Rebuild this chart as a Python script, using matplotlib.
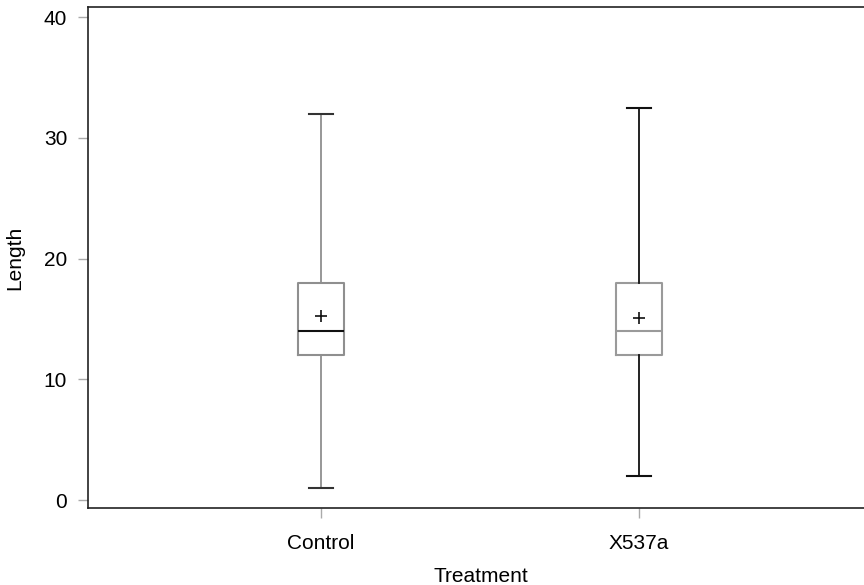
import numpy as np
import matplotlib
matplotlib.use('Agg')
import matplotlib.pyplot as plt

plt.rcParams['font.family'] = ['Liberation Sans', 'DejaVu Sans']

# values
treatments = ['Control', 'X537a']
whisker_low = [1.0, 2.0]
q1 = [12.0, 12.0]
median = [14.0, 14.0]
q3 = [18.0, 18.0]
whisker_high = [32.0, 32.5]
means = [15.2, 15.1]

box_col = ['#8f8f8f', '#9a9a9a']
med_col = ['#111111', '#9a9a9a']
whisk_col = ['#8f8f8f', '#111111']
cap_col = ['#333333', '#111111']

fig = plt.figure(figsize=(8.64, 5.85), dpi=100)
ax = fig.add_axes([88/864, 77/585, 785/864, 501/585])

for i, name in enumerate(treatments):
    stats = [dict(label=name, whislo=whisker_low[i], q1=q1[i], med=median[i],
                  q3=q3[i], whishi=whisker_high[i], mean=means[i], fliers=[])]
    ax.bxp(stats, positions=[i + 1], widths=0.145, showmeans=True,
           showfliers=False, capwidths=0.078,
           boxprops=dict(color=box_col[i], linewidth=1.5),
           medianprops=dict(color=med_col[i], linewidth=1.5),
           whiskerprops=dict(color=whisk_col[i], linewidth=1.3),
           capprops=dict(color=cap_col[i], linewidth=1.5),
           meanprops=dict(marker='+', markersize=8, markeredgecolor='#111111',
                          markeredgewidth=1.2))

ax.set_xlim(0.267, 2.736)
ax.set_ylim(-0.66, 40.83)
ax.set_xticks([1, 2])
ax.set_xticklabels(treatments)
ax.set_yticks([0, 10, 20, 30, 40])

for s in ['left', 'bottom', 'top', 'right']:
    ax.spines[s].set_linewidth(1.2)
    ax.spines[s].set_color('#222222')

ax.tick_params(axis='both', length=7, width=1.0, color='#aaaaaa',
               labelsize=15)
ax.tick_params(axis='x', pad=12)
ax.tick_params(axis='y', pad=8)

ax.set_xlabel('Treatment', fontsize=15, labelpad=10)
ax.set_ylabel('Length', fontsize=15, labelpad=14)

fig.savefig('out.png', dpi=100)
